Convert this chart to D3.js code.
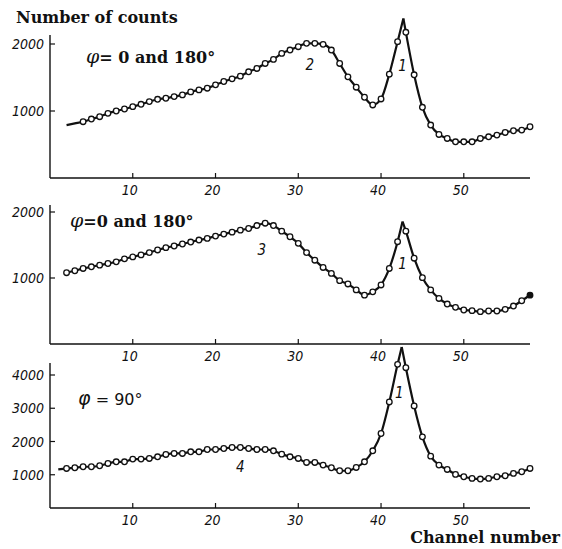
<!DOCTYPE html>
<html>
<head>
<meta charset="utf-8">
<script src="https://cdn.jsdelivr.net/npm/d3@7"></script>
<style>
  body { margin: 0; background: #fff; }
  svg { display: block; }
  .tick-label { font-family: "DejaVu Sans Condensed", "DejaVu Sans", sans-serif; font-style: italic; font-size: 14px; fill: #111; }
  .title { font-family: "DejaVu Serif", serif; font-weight: bold; font-size: 16px; fill: #111; }
  .curve-label { font-family: "DejaVu Sans Condensed", "DejaVu Sans", sans-serif; font-style: italic; font-size: 15px; fill: #111; }
</style>
</head>
<body>
<svg id="chart" width="562" height="549"></svg>
<script>
// channel numbers (x), shared by all three spectra
const channels = [1, 2, 3, 4, 5, 6, 7, 8, 9, 10, 11, 12, 13, 14, 15, 16, 17, 18, 19, 20,
  21, 22, 23, 24, 25, 26, 27, 28, 29, 30, 31, 32, 33, 34, 35, 36, 37, 38, 39, 40,
  41, 42, 43, 44, 45, 46, 47, 48, 49, 50, 51, 52, 53, 54, 55, 56, 57, 58];

// counts, null = no curve there
const countsTop = [null, 790, 815, 840, 880, 915, 965, 1000, 1030, 1065, 1100, 1140, 1175, 1190, 1215, 1240, 1285, 1315, 1340, 1390,
  1440, 1480, 1520, 1585, 1635, 1710, 1770, 1860, 1910, 1960, 2010, 2010, 1995, 1910, 1710, 1510, 1355, 1205, 1090, 1180,
  1550, 2035, 2175, 1540, 1055, 790, 650, 590, 540, 540, 540, 590, 615, 640, 680, 705, 715, 765];
const countsMid = [null, 1080, 1110, 1145, 1170, 1195, 1220, 1245, 1290, 1320, 1350, 1385, 1425, 1460, 1485, 1515, 1545, 1575, 1600, 1635,
  1665, 1695, 1725, 1750, 1795, 1830, 1795, 1710, 1625, 1525, 1385, 1270, 1160, 1070, 960, 910, 820, 740, 790, 895,
  1145, 1550, 1710, 1300, 1005, 820, 690, 605, 555, 515, 505, 490, 500, 500, 525, 575, 655, 740];
const countsBot = [1160, 1190, 1210, 1240, 1240, 1270, 1340, 1390, 1390, 1470, 1470, 1490, 1540, 1610, 1640, 1640, 1690, 1690, 1760, 1760,
  1790, 1820, 1820, 1790, 1760, 1760, 1720, 1620, 1540, 1490, 1370, 1370, 1290, 1210, 1120, 1120, 1220, 1390, 1720, 2240,
  3190, 4320, 4220, 3070, 2140, 1560, 1290, 1160, 1010, 940, 890, 870, 890, 940, 970, 1040, 1090, 1190];

// sharp peak of line 1 in each spectrum
const peakChannels = [42.7, 42.6, 42.5];
const peakCounts = [2380, 1855, 4840];

// first channel carrying a measured point (circle)
const firstMarked = [4, 2, 2];

const xTicks = [10, 20, 30, 40, 50];
const yTicksTop = [1000, 2000];
const yTicksMid = [1000, 2000];
const yTicksBot = [1000, 2000, 3000, 4000];

// curve labels: [channel, count, text]
const labelsTop = [[31.4, 1700, "2"], [42.6, 1680, "1"]];
const labelsMid = [[25.6, 1440, "3"], [42.6, 1230, "1"]];
const labelsBot = [[23.0, 1270, "4"], [42.2, 3480, "1"]];

const angleText = ["= 0 and 180°", "=0 and 180°", " = 90°"];

const svg = d3.select('#chart');

const xScale = d3.scaleLinear().domain([0, 58]).range([50, 530]);

const panels = [
  { counts: countsTop, yTicks: yTicksTop, labels: labelsTop, yMax: 2000, bottom: 178, top: 44, axisTop: 35, phiX: 86, phiY: 63, phiFont: '"DejaVu Serif", serif', phiWeight: 'bold' },
  { counts: countsMid, yTicks: yTicksMid, labels: labelsMid, yMax: 2000, bottom: 344, top: 212, axisTop: 205, phiX: 70, phiY: 227, phiFont: '"DejaVu Serif", serif', phiWeight: 'bold' },
  { counts: countsBot, yTicks: yTicksBot, labels: labelsBot, yMax: 4000, bottom: 508, top: 375, axisTop: 363, phiX: 78, phiY: 405, phiFont: '"DejaVu Sans", sans-serif', phiWeight: 'normal' }
];

panels.forEach((p, i) => {
  const yScale = d3.scaleLinear().domain([0, p.yMax]).range([p.bottom, p.top]);
  const g = svg.append('g');

  // axes
  g.append('line')
    .attr('x1', xScale(0)).attr('x2', xScale(58))
    .attr('y1', p.bottom).attr('y2', p.bottom)
    .style('stroke', '#111').style('stroke-width', 1.4);
  g.append('line')
    .attr('x1', xScale(0)).attr('x2', xScale(0))
    .attr('y1', p.bottom).attr('y2', p.axisTop)
    .style('stroke', '#111').style('stroke-width', 1.4);

  // x ticks (inward) and labels
  xTicks.forEach(t => {
    g.append('line')
      .attr('x1', xScale(t)).attr('x2', xScale(t))
      .attr('y1', p.bottom).attr('y2', p.bottom - 5)
      .style('stroke', '#111').style('stroke-width', 1.2);
    g.append('text')
      .attr('class', 'tick-label')
      .attr('x', xScale(t) - 3)
      .attr('y', p.bottom + 17)
      .style('text-anchor', 'middle')
      .text(t);
  });

  // y ticks (inward) and labels
  p.yTicks.forEach(t => {
    g.append('line')
      .attr('x1', xScale(0)).attr('x2', xScale(0) + 5)
      .attr('y1', yScale(t)).attr('y2', yScale(t))
      .style('stroke', '#111').style('stroke-width', 1.2);
    g.append('text')
      .attr('class', 'tick-label')
      .attr('x', xScale(0) - 6)
      .attr('y', yScale(t) + 5)
      .style('text-anchor', 'end')
      .text(t);
  });

  // data
  const pts = channels.map((c, k) => ({ ch: c, v: p.counts[k] })).filter(d => d.v != null);
  const peak = { ch: peakChannels[i], v: peakCounts[i] };
  const left = pts.filter(d => d.ch < peak.ch).concat([peak]);
  const right = [peak].concat(pts.filter(d => d.ch > peak.ch));

  const line = d3.line()
    .x(d => xScale(d.ch))
    .y(d => yScale(d.v))
    .curve(d3.curveMonotoneX);

  [left, right].forEach(seg => {
    g.append('path')
      .datum(seg)
      .style('fill', 'none')
      .style('stroke', '#111')
      .style('stroke-width', 2.2)
      .attr('d', line);
  });

  const marked = pts.filter(d => d.ch >= firstMarked[i]);
  g.selectAll('circle')
    .data(marked)
    .enter().append('circle')
    .attr('cx', d => xScale(d.ch))
    .attr('cy', d => yScale(d.v))
    .attr('r', 2.8)
    .style('fill', (d, k) => (i == 1 && k == marked.length - 1) ? '#111' : '#fff')
    .style('stroke', '#111')
    .style('stroke-width', 1.3);

  // curve labels
  p.labels.forEach(l => {
    g.append('text')
      .attr('class', 'curve-label')
      .attr('x', xScale(l[0]))
      .attr('y', yScale(l[1]) + 6)
      .style('text-anchor', 'middle')
      .text(l[2]);
  });

  // angle annotation
  const phi = g.append('text')
    .attr('x', p.phiX)
    .attr('y', p.phiY)
    .attr('font-family', p.phiFont)
    .attr('font-size', 16)
    .attr('fill', '#111');
  phi.append('tspan').attr('font-style', 'italic').attr('font-size', 19).text('φ');
  phi.append('tspan').attr('font-weight', p.phiWeight).text(angleText[i]);
});

svg.append('text')
  .attr('class', 'title')
  .attr('x', 16)
  .attr('y', 23)
  .text('Number of counts');

svg.append('text')
  .attr('class', 'title')
  .attr('x', 560)
  .attr('y', 543)
  .style('text-anchor', 'end')
  .text('Channel number');
</script>
</body>
</html>
